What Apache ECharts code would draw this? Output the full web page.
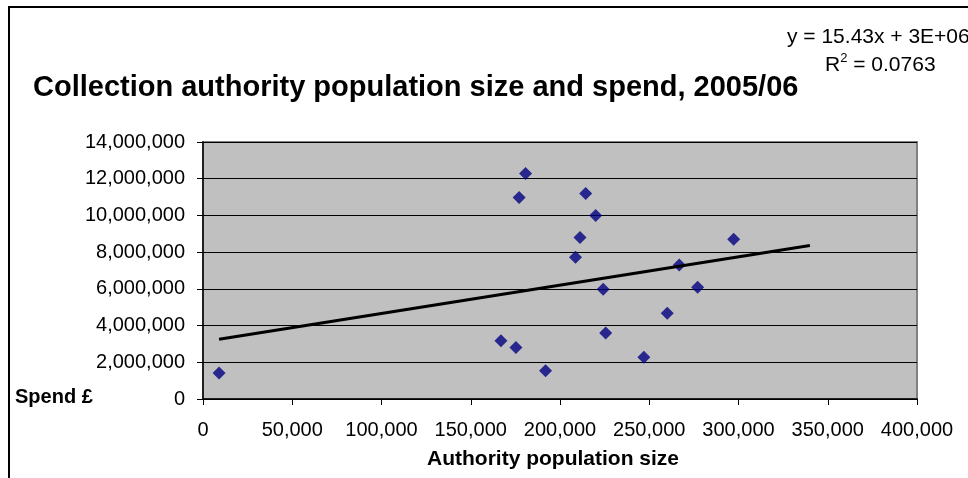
<!DOCTYPE html>
<html>
<head>
<meta charset="utf-8">
<style>
  html, body { margin: 0; padding: 0; background: #ffffff; }
  #chart { width: 968px; height: 478px; }
</style>
<script src="https://cdn.jsdelivr.net/npm/echarts@6/dist/echarts.min.js"></script>
</head>
<body>
<div id="chart"></div>
<script>
// Collection authorities: population and spend, 2005/06
const population = [9000, 166900, 175300, 191900, 177100, 180700, 208700, 211200, 214400,
                    220000, 224200, 225600, 247000, 260100, 266800, 277100, 297300];
const spend = [1410000, 3170000, 2800000, 1540000, 10980000, 12280000, 7720000, 8800000, 11200000,
               10000000, 5980000, 3590000, 2280000, 4670000, 7300000, 6090000, 8700000];

// Linear trend: y = 15.43x + 3E+06
const trendSlope = 15.43;
const trendIntercept = 3120000;
const trendRange = [9000, 340000];

const yTicks = [0, 2000000, 4000000, 6000000, 8000000, 10000000, 12000000, 14000000];
const xTicks = [0, 50000, 100000, 150000, 200000, 250000, 300000, 350000, 400000];

const points = population.map((x, i) => [x, spend[i]]);
const trend = trendRange.map(x => [x, trendSlope * x + trendIntercept]);

const fmt = v => v.toLocaleString('en-GB');
const FONT = '"Liberation Sans", Arial, sans-serif';

const chart = echarts.init(document.getElementById('chart'));
chart.setOption({
  animation: false,
  backgroundColor: '#ffffff',
  textStyle: { fontFamily: FONT },
  grid: {
    left: 203, right: 51, top: 142, bottom: 79,
    show: true, backgroundColor: '#c0c0c0', borderColor: '#808080', borderWidth: 2
  },
  xAxis: {
    type: 'value',
    min: xTicks[0], max: xTicks[xTicks.length - 1], interval: 50000,
    axisLine: { show: true, onZero: false, lineStyle: { color: '#000', width: 1.5 } },
    axisTick: { show: true, inside: false, length: 6, lineStyle: { color: '#000' } },
    splitLine: { show: false },
    axisLabel: { color: '#000', fontSize: 20, margin: 21, formatter: fmt, fontFamily: FONT },
    name: 'Authority population size',
    nameLocation: 'middle', nameGap: 50,
    nameTextStyle: { color: '#000', fontSize: 21, fontWeight: 'bold', fontFamily: FONT, padding: [0, 14, 0, 0] }
  },
  yAxis: {
    type: 'value',
    min: yTicks[0], max: yTicks[yTicks.length - 1], interval: 2000000,
    axisLine: { show: true, lineStyle: { color: '#000', width: 1.5 } },
    axisTick: { show: true, inside: false, length: 6, lineStyle: { color: '#000' } },
    splitLine: { show: true, lineStyle: { color: '#000', width: 1 } },
    axisLabel: { color: '#000', fontSize: 20, margin: 18, formatter: fmt, fontFamily: FONT }
  },
  title: {
    text: 'Collection authority population size and spend, 2005/06',
    left: 28, top: 68,
    textStyle: { color: '#000', fontSize: 29, fontWeight: 'bold', fontFamily: FONT }
  },
  graphic: [
    {
      type: 'rect', silent: true, z: -1,
      shape: { x: 9, y: 7, width: 1100, height: 600 },
      style: { fill: 'none', stroke: '#000', lineWidth: 2 }
    },
    {
      type: 'text', left: 787, top: 27,
      style: { text: 'y = 15.43x + 3E+06', fill: '#000', font: '21px ' + FONT }
    },
    {
      type: 'text', left: 825, top: 52,
      style: {
        text: '{r|R}{s|2}{r| = 0.0763}',
        fill: '#000',
        rich: {
          r: { fontSize: 21, fontFamily: FONT, color: '#000', verticalAlign: 'bottom', lineHeight: 24 },
          s: { fontSize: 13, fontFamily: FONT, color: '#000', verticalAlign: 'top', lineHeight: 24, padding: [0, 0, 10, 0] }
        }
      }
    },
    {
      type: 'text', left: 15, top: 387,
      style: { text: 'Spend £', fill: '#000', font: 'bold 20px ' + FONT }
    }
  ],
  series: [
    {
      type: 'scatter',
      data: points,
      symbol: 'diamond',
      symbolSize: 13,
      itemStyle: { color: '#000080' },
      z: 3
    },
    {
      type: 'line',
      data: trend,
      showSymbol: false,
      symbol: 'none',
      lineStyle: { color: '#000', width: 3 },
      z: 4
    }
  ]
});
</script>
</body>
</html>
